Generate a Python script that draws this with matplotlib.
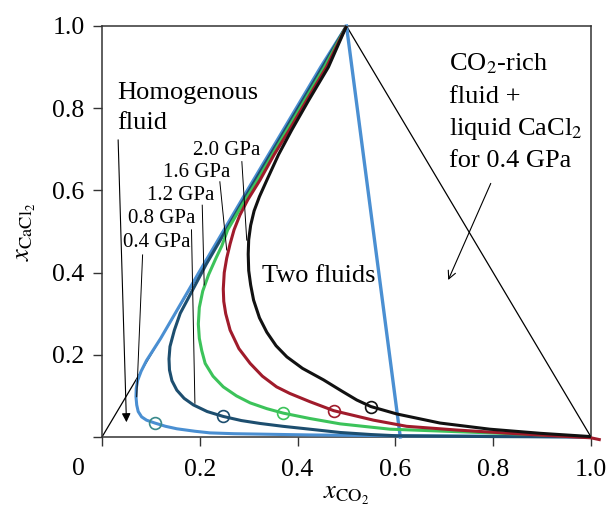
import matplotlib
matplotlib.use("Agg")
import matplotlib.pyplot as plt

plt.rcParams['font.family'] = ['Liberation Serif', 'DejaVu Serif']
plt.rcParams['mathtext.fontset'] = 'stix'

# ---- data ----
pressures = ["0.4 GPa", "0.8 GPa", "1.2 GPa", "1.6 GPa", "2.0 GPa"]
colors = ["#4a8fd2", "#1d4e6f", "#3cc35a", "#a01b2b", "#111111"]
marker_colors = ["#3a8a8c", "#1d4e6f", "#3cc35a", "#a01b2b", "#111111"]

x04 = [0.5, 0.447, 0.397, 0.297, 0.198, 0.12, 0.091, 0.080, 0.073, 0.0700, 0.0695, 0.071, 0.074,
       0.081, 0.091, 0.108, 0.130, 0.153, 0.190, 0.221, 0.270, 0.323, 0.425, 0.60, 0.80, 1.0]
y04 = [1.0, 0.90, 0.80, 0.60, 0.40, 0.24, 0.186, 0.160, 0.138, 0.118, 0.098, 0.078, 0.062,
       0.049, 0.041, 0.034, 0.026, 0.020, 0.014, 0.010, 0.008, 0.007, 0.005, 0.003, 0.002, 0.0]

x08 = [0.5, 0.451, 0.401, 0.301, 0.213, 0.189, 0.173, 0.160, 0.148, 0.139, 0.137, 0.138, 0.143,
       0.153, 0.168, 0.187, 0.215, 0.248, 0.285, 0.323, 0.370, 0.425, 0.487, 0.550, 0.603, 0.80,
       1.0]
y08 = [1.0, 0.90, 0.80, 0.60, 0.42, 0.366, 0.330, 0.301, 0.260, 0.220, 0.190, 0.163, 0.137,
       0.114, 0.094, 0.078, 0.062, 0.050, 0.040, 0.033, 0.026, 0.019, 0.011, 0.006, 0.003, 0.001,
       0.0]

x12 = [0.5, 0.455, 0.405, 0.355, 0.318, 0.282, 0.257, 0.245, 0.233, 0.218, 0.206, 0.199, 0.197,
       0.199, 0.204, 0.211, 0.227, 0.248, 0.275, 0.303, 0.337, 0.371, 0.425, 0.487, 0.589, 0.725,
       0.861, 1.0]
y12 = [1.0, 0.90, 0.80, 0.70, 0.625, 0.555, 0.504, 0.465, 0.435, 0.395, 0.355, 0.315, 0.275,
       0.240, 0.210, 0.179, 0.148, 0.122, 0.100, 0.083, 0.069, 0.058, 0.045, 0.032, 0.019, 0.013,
       0.007, 0.0]

x16 = [0.5, 0.459, 0.419, 0.383, 0.352, 0.323, 0.298, 0.282, 0.270, 0.262, 0.255, 0.250, 0.248,
       0.249, 0.253, 0.262, 0.280, 0.303, 0.328, 0.357, 0.384, 0.425, 0.474, 0.555, 0.623,
       0.725, 0.862, 1.0, 1.02]
y16 = [1.0, 0.90, 0.82, 0.747, 0.687, 0.625, 0.577, 0.540, 0.504, 0.470, 0.435, 0.400, 0.360,
       0.330, 0.300, 0.260, 0.215, 0.179, 0.148, 0.122, 0.106, 0.086, 0.064, 0.041, 0.026,
       0.017, 0.007, -0.002, -0.007]

x20 = [0.5, 0.463, 0.423, 0.388, 0.361, 0.339, 0.322, 0.311, 0.304, 0.300, 0.299, 0.300,
       0.304, 0.310, 0.322, 0.337, 0.356, 0.378, 0.410, 0.453, 0.490, 0.521, 0.550, 0.603,
       0.691, 0.793, 0.896, 1.0]
y20 = [1.0, 0.90, 0.82, 0.747, 0.687, 0.630, 0.585, 0.550, 0.515, 0.480, 0.445, 0.405,
       0.370, 0.333, 0.290, 0.255, 0.222, 0.195, 0.167, 0.139, 0.112, 0.090, 0.074, 0.056,
       0.034, 0.019, 0.009, 0.001]

curves_x = [x04, x08, x12, x16, x20]
curves_y = [y04, y08, y12, y16, y20]

# critical points (open circles)
crit_x = [0.108, 0.248, 0.371, 0.474, 0.550]
crit_y = [0.035, 0.050, 0.058, 0.064, 0.073]

# triangle and tie line
tri_x = [0.0, 0.5, 1.0]
tri_y = [0.0, 1.0, 0.0]
tie_x = [0.5, 0.61]
tie_y = [1.0, 0.0]

# label positions for pressure labels (left, baseline) and leader lines
label_pos = [(0.043, 0.462), (0.053, 0.521), (0.092, 0.576), (0.125, 0.632), (0.186, 0.686)]
leaders = [((0.083, 0.443), (0.071, 0.098)),
           ((0.183, 0.504), (0.190, 0.082)),
           ((0.205, 0.564), (0.209, 0.370)),
           ((0.241, 0.621), (0.255, 0.455)),
           ((0.286, 0.670), (0.296, 0.479))]

xticks = [0.0, 0.2, 0.4, 0.6, 0.8, 1.0]
xticklabels = ["", "0.2", "0.4", "0.6", "0.8", "1.0"]
yticks = [0.0, 0.2, 0.4, 0.6, 0.8, 1.0]
yticklabels = ["", "0.2", "0.4", "0.6", "0.8", "1.0"]

# ---- figure ----
fig = plt.figure(figsize=(6.08, 5.08), dpi=100)
ax = fig.add_axes([102 / 608, 71 / 508, 489 / 608, 411 / 508])
ax.set_xlim(0, 1)
ax.set_ylim(0, 1)

ax.plot(tri_x, tri_y, color="black", lw=0.9, zorder=2)
ax.plot(tie_x, tie_y, color=colors[0], lw=2.4, zorder=3, clip_on=False)

for cx, cy, c in zip(curves_x, curves_y, colors):
    ax.plot(cx, cy, color=c, lw=2.2, zorder=4, clip_on=False, solid_capstyle='butt',
            solid_joinstyle='round')

for px, py, mc in zip(crit_x, crit_y, marker_colors):
    ax.plot([px], [py], marker='o', ms=8.5, mfc='none', mec=mc, mew=1.2, zorder=6, ls='none')

for (lx, ly), t in zip(label_pos, pressures):
    ax.text(lx, ly, t, fontsize=15, ha='left', va='baseline', zorder=7)

for (a, b) in leaders:
    ax.plot([a[0], b[0]], [a[1], b[1]], color='black', lw=0.7, zorder=5)

ax.text(0.031, 0.822, "Homogenous", fontsize=19, ha='left', va='baseline')
ax.text(0.031, 0.749, "fluid", fontsize=19, ha='left', va='baseline')
ax.annotate("", xy=(0.050, 0.036), xytext=(0.033, 0.723),
            arrowprops=dict(arrowstyle='-|>', color='black', lw=0.8, mutation_scale=13,
                            shrinkA=0, shrinkB=0))

ax.text(0.327, 0.376, "Two fluids", fontsize=19, ha='left', va='baseline')

for t, yb in zip(["CO$_2$-rich", "fluid +", "liquid CaCl$_2$", "for 0.4 GPa"],
                 [0.891, 0.813, 0.735, 0.657]):
    ax.text(0.710, yb, t, fontsize=19, ha='left', va='baseline')
ax.annotate("", xy=(0.708, 0.382), xytext=(0.795, 0.617),
            arrowprops=dict(arrowstyle='->', color='black', lw=0.8, mutation_scale=14,
                            shrinkA=0, shrinkB=0))

ax.set_xticks(xticks)
ax.set_xticklabels(xticklabels)
ax.set_yticks(yticks)
ax.set_yticklabels(yticklabels)
ax.tick_params(direction='out', length=6.5, width=1.0, labelsize=18.5, color='#333333')
ax.tick_params(axis='x', pad=9)
ax.tick_params(axis='y', pad=6)
for s in ax.spines.values():
    s.set_linewidth(1.1)
    s.set_color('#333333')

ax.text(-0.049, -0.078, "0", fontsize=18.5, ha='center', va='center', transform=ax.transData,
        clip_on=False)

ax.set_xlabel(r'$x_{\mathrm{CO}_2}$', fontsize=19, labelpad=3)
ax.set_ylabel(r'$x_{\mathrm{CaCl}_2}$', fontsize=19)
ax.yaxis.set_label_coords(-0.13, 0.5)

fig.savefig("out.png", dpi=100)
